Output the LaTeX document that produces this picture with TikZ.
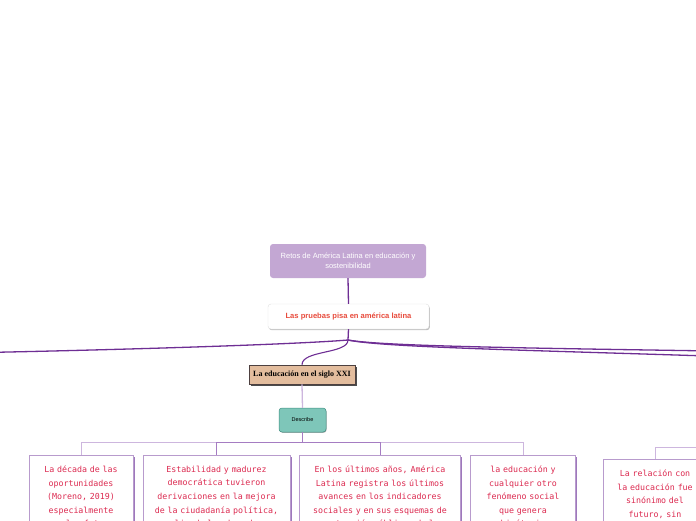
\documentclass[tikz,border=0pt]{standalone}
\usepackage{fontspec}
\setmainfont{Liberation Sans}
\newfontfamily\monof{DejaVu Sans Mono}
\newfontfamily\serf{Liberation Serif}
\usetikzlibrary{shadows}
\definecolor{darkpurple}{HTML}{6E2E94}
\definecolor{lightline}{HTML}{CDB6DE}
\definecolor{midline}{HTML}{A57CC2}
\definecolor{retosfill}{HTML}{C3A7D3}
\definecolor{pisared}{HTML}{E84C3D}
\definecolor{edufill}{HTML}{E3BD9E}
\definecolor{eduborder}{HTML}{4D4040}
\definecolor{descfill}{HTML}{7EC6B9}
\definecolor{descborder}{HTML}{3F8F82}
\definecolor{boxborder}{HTML}{B89BCD}
\definecolor{boxshadow}{HTML}{9E78BC}
\definecolor{boxtext}{HTML}{DC2A50}
\tikzset{
  retosbox/.style={fill=retosfill, rounded corners=3pt, minimum width=156pt, minimum height=34pt,
    text=white, font=\fontsize{7.5}{10}\selectfont, align=center, inner sep=0pt},
  pisabox/.style={fill=white, draw=black!12, rounded corners=3pt, minimum width=161pt, minimum height=25pt,
    text=pisared, font=\fontsize{7.6}{9}\selectfont\bfseries, inner sep=0pt,
    general shadow={fill=black!25, shadow xshift=0.8pt, shadow yshift=-1.2pt}},
  edubox/.style={fill=edufill, draw=eduborder, line width=0.6pt, minimum width=106pt, minimum height=19pt,
    font=\fontsize{8}{9}\serf\bfseries, inner sep=0pt,
    general shadow={fill=black!70, shadow xshift=1.6pt, shadow yshift=-1.6pt}},
  descbox/.style={fill=descfill, draw=descborder, line width=0.5pt, rounded corners=3pt, minimum width=47pt,
    minimum height=24pt, font=\fontsize{5.5}{7}\selectfont, inner sep=0pt,
    general shadow={fill=black!30, shadow xshift=0.6pt, shadow yshift=-0.8pt}},
  txtbox/.style={fill=white, draw=boxborder, line width=0.8pt, anchor=north, align=center,
    text=boxtext, font=\fontsize{8.3}{13.6}\monof, inner xsep=3pt, inner ysep=10.5pt, text depth=120pt,
    general shadow={fill=boxshadow, shadow xshift=1.6pt, shadow yshift=-1.2pt}},
  mainline/.style={draw=darkpurple, line width=1.3pt},
  thinline/.style={draw=lightline, line width=1pt},
  midthin/.style={draw=midline, line width=1pt},
}
\begin{document}
\begin{tikzpicture}[x=1pt,y=-1pt]
\useasboundingbox (0,0) rectangle (696,520);
\clip (0,0) rectangle (696,520);

\node[retosbox] (retos) at (348,261) {Retos de América Latina en educación y\\sostenibilidad};
\node[pisabox] (pisa) at (348.5,316.5) {Las pruebas pisa en américa latina};
\node[edubox] (edu) at (302,374.5) {La educación en el siglo XXI};
\node[descbox] (desc) at (302.5,420) {Describe};

\coordinate (j1) at (348,340);
\coordinate (offL) at (-5,352.3);
\coordinate (offRa) at (701,350.8);
\coordinate (offRb) at (701,355.8);
\coordinate (offRc) at (701,447);
\coordinate (j2) at (302.5,442);

\node[txtbox, text width=98pt] (b1) at (81,455) {La década de las\\oportunidades\\(Moreno, 2019)\\especialmente\\para los futuros};
\node[txtbox, text width=141pt] (b2) at (216.5,455) {Estabilidad y madurez\\democrática tuvieron\\derivaciones en la mejora\\de la ciudadanía política,\\ampliando los derechos a};
\node[txtbox, text width=155pt] (b3) at (380,455) {En los últimos años, América\\Latina registra los últimos\\avances en los indicadores\\sociales y en sus esquemas de\\contención pública, de la};
\node[txtbox, text width=99pt] (b4) at (523,455) {la educación y\\cualquier otro\\fenómeno social\\que genera\\hipótesis};
\node[txtbox, text width=98pt] (b5) at (655,459) {La relación con\\la educación fue\\sinónimo del\\futuro, sin\\que};

\draw[mainline] (retos.south) -- (pisa.north);
\draw[mainline] (pisa.south) -- (j1);
\draw[mainline] (j1) .. controls (300,344) and (150,349) .. (offL);
\draw[mainline] (j1) .. controls (380,346) and (520,348) .. (offRa);
\draw[mainline] (j1) .. controls (380,347) and (520,350) .. (offRb);
\draw[mainline, line width=1.1pt] (j1) .. controls (348,354) and (302,350) .. (edu.north);

\draw[draw=lightline, line width=1.3pt] (edu.south) -- (desc.north);
\draw[draw=midline, line width=1.2pt] (desc.south) -- (j2);
\draw[thinline] (j2) -| (b1.north);
\draw[thinline] (j2) -| (b4.north);
\draw[midthin] (j2) -| (b2.north);
\draw[midthin] (j2) -| (b3.north);
\draw[thinline] (offRc) -| (b5.north);
\end{tikzpicture}
\end{document}
